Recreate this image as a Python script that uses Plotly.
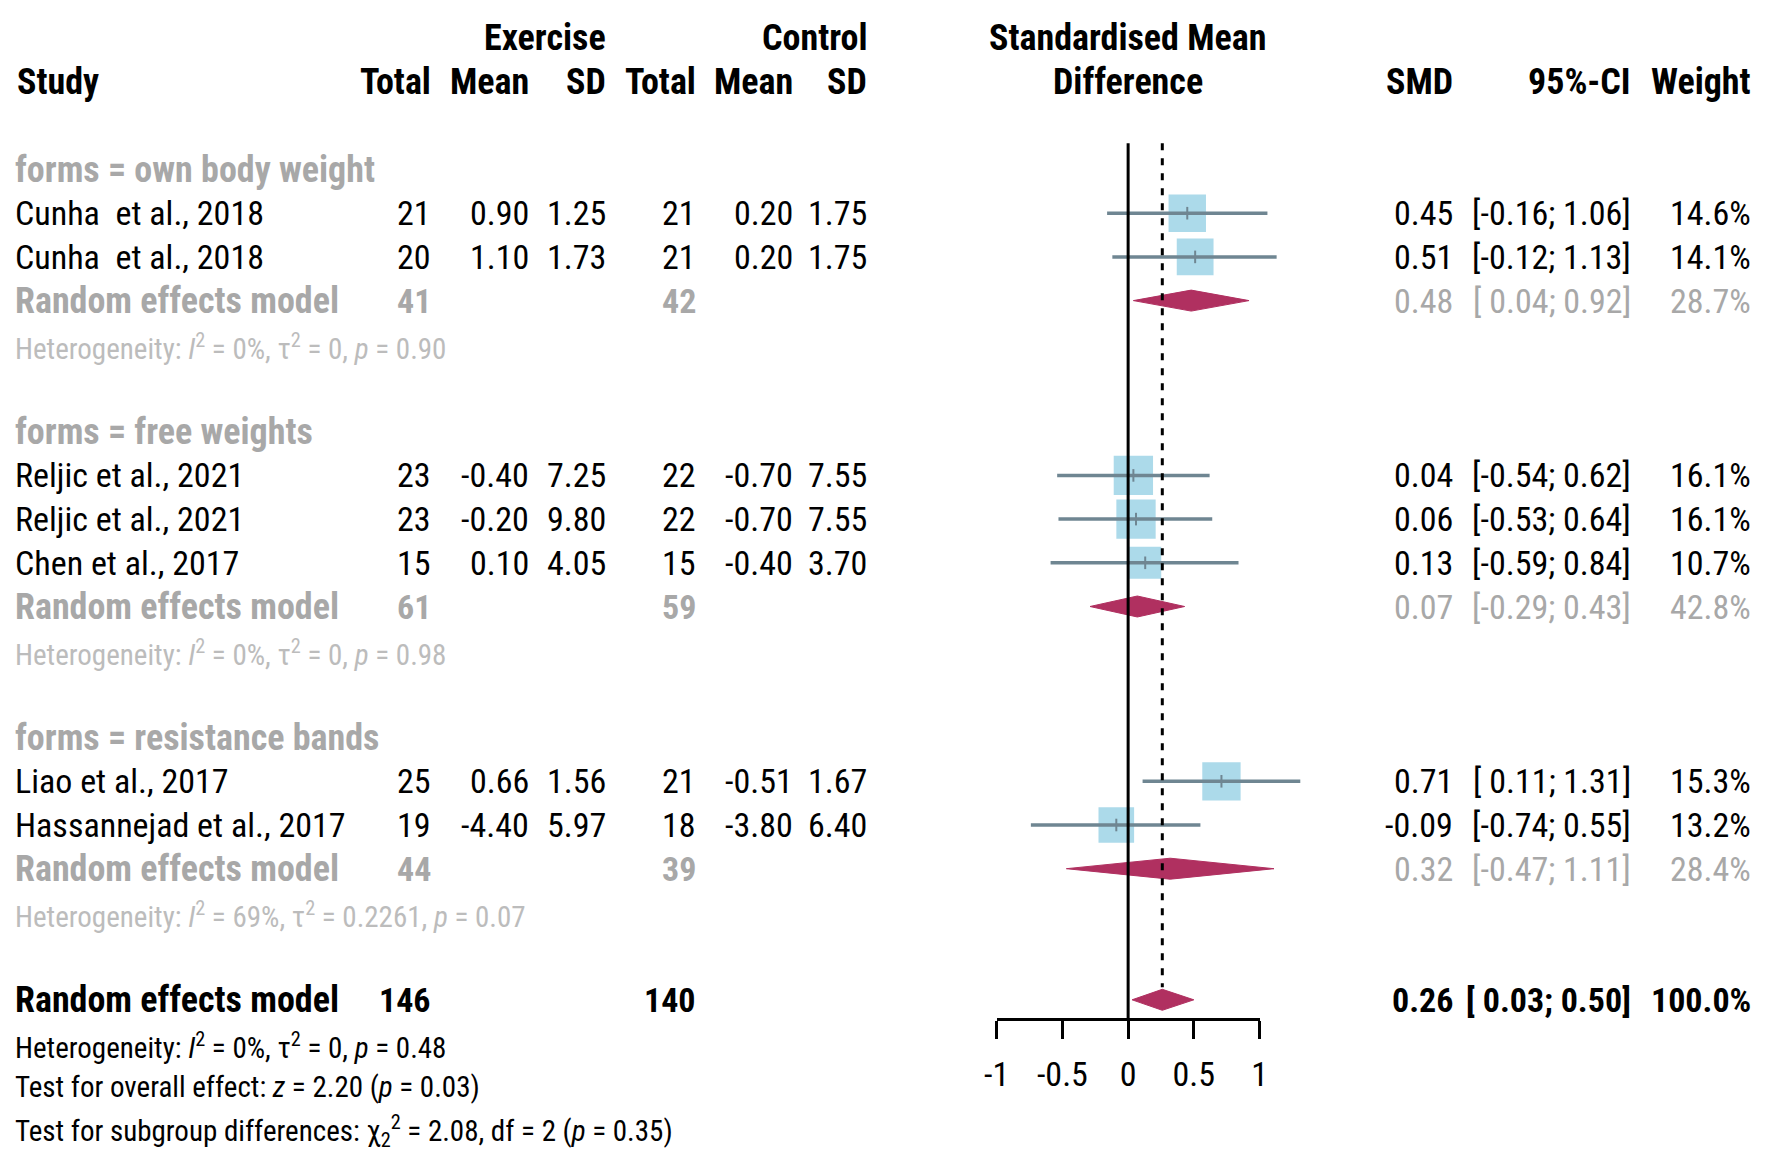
import math
import plotly.graph_objects as go

# ==================== data ====================
study = ["Cunha  et al., 2018", "Cunha  et al., 2018", "Reljic et al., 2021", "Reljic et al., 2021",
         "Chen et al., 2017", "Liao et al., 2017", "Hassannejad et al., 2017"]
group = [0, 0, 1, 1, 1, 2, 2]
ex_n = [21, 20, 23, 23, 15, 25, 19]
ex_mean = ["0.90", "1.10", "-0.40", "-0.20", "0.10", "0.66", "-4.40"]
ex_sd = ["1.25", "1.73", "7.25", "9.80", "4.05", "1.56", "5.97"]
ct_n = [21, 21, 22, 22, 15, 21, 18]
ct_mean = ["0.20", "0.20", "-0.70", "-0.70", "-0.40", "-0.51", "-3.80"]
ct_sd = ["1.75", "1.75", "7.55", "7.55", "3.70", "1.67", "6.40"]
smd = [0.45, 0.51, 0.04, 0.06, 0.13, 0.71, -0.09]
ci_lo = [-0.16, -0.12, -0.54, -0.53, -0.59, 0.11, -0.74]
ci_hi = [1.06, 1.13, 0.62, 0.64, 0.84, 1.31, 0.55]
weight = [14.6, 14.1, 16.1, 16.1, 10.7, 15.3, 13.2]

sub_name = ["own body weight", "free weights", "resistance bands"]
sub_ex_n = [41, 61, 44]
sub_ct_n = [42, 59, 39]
sub_smd = [0.48, 0.07, 0.32]
sub_lo = [0.04, -0.29, -0.47]
sub_hi = [0.92, 0.43, 1.11]
sub_weight = [28.7, 42.8, 28.4]
sub_i2 = ["0", "0", "69"]
sub_tau2 = ["0", "0", "0.2261"]
sub_p = ["0.90", "0.98", "0.07"]

all_ex_n, all_ct_n = 146, 140
all_smd, all_lo, all_hi, all_weight = 0.26, 0.03, 0.50, 100.0
all_het = ("0", "0", "0.48")
test_overall = ("2.20", "0.03")
test_sub = ("2.08", "2", "0.35")

tick_vals = [-1, -0.5, 0, 0.5, 1]
tick_text = ["-1", "-0.5", "0", "0.5", "1"]

# ==================== layout constants ====================
W, H = 1772, 1170
ROW0 = 169.5      # pixel centre of row 0
ROWH = 43.7       # row height, px
ZERO_PX = 1128.5  # x pixel of SMD = 0
UNIT_PX = 133.0   # px per SMD unit
AXIS_PX = 1019.0  # pixel y of x axis line
XSPAN = 1.5

FONT = "Roboto Condensed, Liberation Sans, Arial, sans-serif"
FS = 34           # regular text
FS_B = 36         # bold labels
FS_SMALL = 29     # heterogeneity / tests
GREY = "#a8a8a8"
LGREY = "#bcbcbc"
SQ_COL = "#89cbe1"
CI_COL = "#6f8692"
DIA_COL = "#b03060"

# column edges (px)
C_STUDY = 1
C_EXN, C_EXM, C_EXS = 424, 523, 601
C_CTN, C_CTM, C_CTS = 692, 790, 865
C_MID = 1128
C_SMD, C_CI, C_W = 1458, 1638, 1760


def fmt_ci(lo, hi):
    lo_s = f"{lo:.2f}" if lo < 0 else f" {lo:.2f}"
    return f"[{lo_s}; {hi:.2f}]"


annotations = []


def txt(xpx, row, s, anchor="right", size=None, color="black", bold=False):
    if size is None:
        size = FS_B if bold else FS
    if bold:
        s = f"<b>{s}</b>"
    annotations.append(dict(x=xpx / W, xref="paper", y=row, yref="y", text=s,
                            xanchor=anchor, yanchor="middle", showarrow=False, borderpad=0,
                            font=dict(family=FONT, size=size, color=color)))


# ==================== rows ====================
study_rows = []
sub_rows = []
r = 0
for g in range(len(sub_name)):
    txt(C_STUDY, r, f"forms = {sub_name[g]}", anchor="left", color=GREY, bold=True)
    r += 1
    for i in range(len(study)):
        if group[i] == g:
            study_rows.append(r)
            r += 1
    sub_rows.append(r)
    r += 3
all_row = r

# headers
txt(C_EXS, -3, "Exercise", bold=True)
txt(C_CTS, -3, "Control", bold=True)
txt(C_MID, -3, "Standardised Mean", anchor="center", bold=True)
txt(C_STUDY + 2, -2, "Study", anchor="left", bold=True)
for xp, s in [(C_EXN, "Total"), (C_EXM, "Mean"), (C_EXS, "SD"), (C_CTN, "Total"),
              (C_CTM, "Mean"), (C_CTS, "SD"), (C_SMD, "SMD"), (C_CI, "95%-CI"), (C_W, "Weight")]:
    txt(xp, -2, s, bold=True)
txt(C_MID, -2, "Difference", anchor="center", bold=True)

# studies
for i, row in enumerate(study_rows):
    txt(C_STUDY, row, study[i], anchor="left")
    txt(C_EXN, row, str(ex_n[i]))
    txt(C_EXM, row, ex_mean[i])
    txt(C_EXS, row, ex_sd[i])
    txt(C_CTN, row, str(ct_n[i]))
    txt(C_CTM, row, ct_mean[i])
    txt(C_CTS, row, ct_sd[i])
    txt(C_SMD, row, f"{smd[i]:.2f}")
    txt(C_CI, row, fmt_ci(ci_lo[i], ci_hi[i]))
    txt(C_W, row, f"{weight[i]:.1f}%")

# subgroup summaries
for g, row in enumerate(sub_rows):
    txt(C_STUDY, row, "Random effects model", anchor="left", color=GREY, bold=True)
    txt(C_EXN, row, str(sub_ex_n[g]), color=GREY, bold=True, size=FS)
    txt(C_CTN, row, str(sub_ct_n[g]), color=GREY, bold=True, size=FS)
    txt(C_SMD, row, f"{sub_smd[g]:.2f}", color=GREY)
    txt(C_CI, row, fmt_ci(sub_lo[g], sub_hi[g]), color=GREY)
    txt(C_W, row, f"{sub_weight[g]:.1f}%", color=GREY)
    txt(C_STUDY, row + 1.06, f"Heterogeneity: <i>I</i><sup>2</sup> = {sub_i2[g]}%, "
        f"τ<sup>2</sup> = {sub_tau2[g]}, <i>p</i> = {sub_p[g]}", anchor="left", size=FS_SMALL, color=LGREY)

# overall
txt(C_STUDY, all_row, "Random effects model", anchor="left", bold=True)
txt(C_EXN, all_row, str(all_ex_n), bold=True, size=FS)
txt(C_CTN, all_row, str(all_ct_n), bold=True, size=FS)
txt(C_SMD, all_row, f"{all_smd:.2f}", bold=True, size=FS)
txt(C_CI, all_row, fmt_ci(all_lo, all_hi), bold=True, size=FS)
txt(C_W, all_row, f"{all_weight:.1f}%", bold=True, size=FS)
txt(C_STUDY, all_row + 1.06, f"Heterogeneity: <i>I</i><sup>2</sup> = {all_het[0]}%, "
    f"τ<sup>2</sup> = {all_het[1]}, <i>p</i> = {all_het[2]}", anchor="left", size=FS_SMALL)
txt(C_STUDY, all_row + 2, f"Test for overall effect: <i>z</i> = {test_overall[0]} "
    f"(<i>p</i> = {test_overall[1]})", anchor="left", size=FS_SMALL)
txt(C_STUDY, all_row + 3, f"Test for subgroup differences: χ<sub>2</sub><sup>2</sup> = {test_sub[0]}, "
    f"df = {test_sub[1]} (<i>p</i> = {test_sub[2]})", anchor="left", size=FS_SMALL)

# ==================== forest marks ====================
fig = go.Figure()

fig.add_trace(go.Scatter(
    x=smd, y=study_rows, mode="markers",
    marker=dict(symbol="square", color=SQ_COL, size=[9.8 * math.sqrt(w) for w in weight], line=dict(width=0)),
    hoverinfo="skip", showlegend=False))

ci_x, ci_y = [], []
for lo, hi, row in zip(ci_lo, ci_hi, study_rows):
    ci_x += [lo, hi, None]
    ci_y += [row, row, None]
fig.add_trace(go.Scatter(x=ci_x, y=ci_y, mode="lines", line=dict(color=CI_COL, width=3.5),
                         hoverinfo="skip", showlegend=False))
fig.add_trace(go.Scatter(x=smd, y=study_rows, mode="markers",
                         marker=dict(symbol="line-ns-open", size=9, color=CI_COL,
                                     line=dict(color=CI_COL, width=2)),
                         hoverinfo="skip", showlegend=False))

DH = 0.24
for est, lo, hi, row in list(zip(sub_smd, sub_lo, sub_hi, sub_rows)) + [(all_smd, all_lo, all_hi, all_row)]:
    fig.add_trace(go.Scatter(x=[lo, est, hi, est, lo], y=[row, row - DH, row, row + DH, row],
                             mode="lines", fill="toself", fillcolor=DIA_COL,
                             line=dict(color=DIA_COL, width=1), hoverinfo="skip", showlegend=False))

# invisible trace to carry the tick axis
fig.add_trace(go.Scatter(x=tick_vals, y=[None] * len(tick_vals), xaxis="x2", yaxis="y",
                         mode="markers", hoverinfo="skip", showlegend=False))

axis_row = (AXIS_PX - ROW0) / ROWH
top_row = -0.6
fig.add_shape(type="line", xref="x", yref="y", x0=0, x1=0, y0=top_row, y1=axis_row,
              line=dict(color="black", width=3))
fig.add_shape(type="line", xref="x", yref="y", x0=all_smd, x1=all_smd, y0=top_row, y1=all_row - DH - 0.05,
              line=dict(color="black", width=3, dash="7px,8px"))

fig.update_layout(
    width=W, height=H,
    margin=dict(l=0, r=0, t=0, b=0),
    paper_bgcolor="white", plot_bgcolor="rgba(0,0,0,0)",
    annotations=annotations,
    xaxis=dict(domain=[(ZERO_PX - XSPAN * UNIT_PX) / W, (ZERO_PX + XSPAN * UNIT_PX) / W],
               range=[-XSPAN, XSPAN], visible=False, fixedrange=True),
    xaxis2=dict(domain=[(ZERO_PX - UNIT_PX) / W, (ZERO_PX + UNIT_PX) / W], range=[-1, 1],
                anchor="free", position=1 - AXIS_PX / H,
                showline=True, linecolor="black", linewidth=3,
                ticks="outside", ticklen=18, tickwidth=3, tickcolor="black",
                tickvals=tick_vals, ticktext=tick_text, ticklabelstandoff=6,
                tickfont=dict(family=FONT, size=FS, color="black"),
                showgrid=False, zeroline=False, fixedrange=True),
    yaxis=dict(domain=[0, 1], range=[(H - ROW0) / ROWH, -ROW0 / ROWH], visible=False, fixedrange=True),
)

fig.write_html("out.html", config={"displayModeBar": False},
               post_script="document.body.style.margin='0';")
